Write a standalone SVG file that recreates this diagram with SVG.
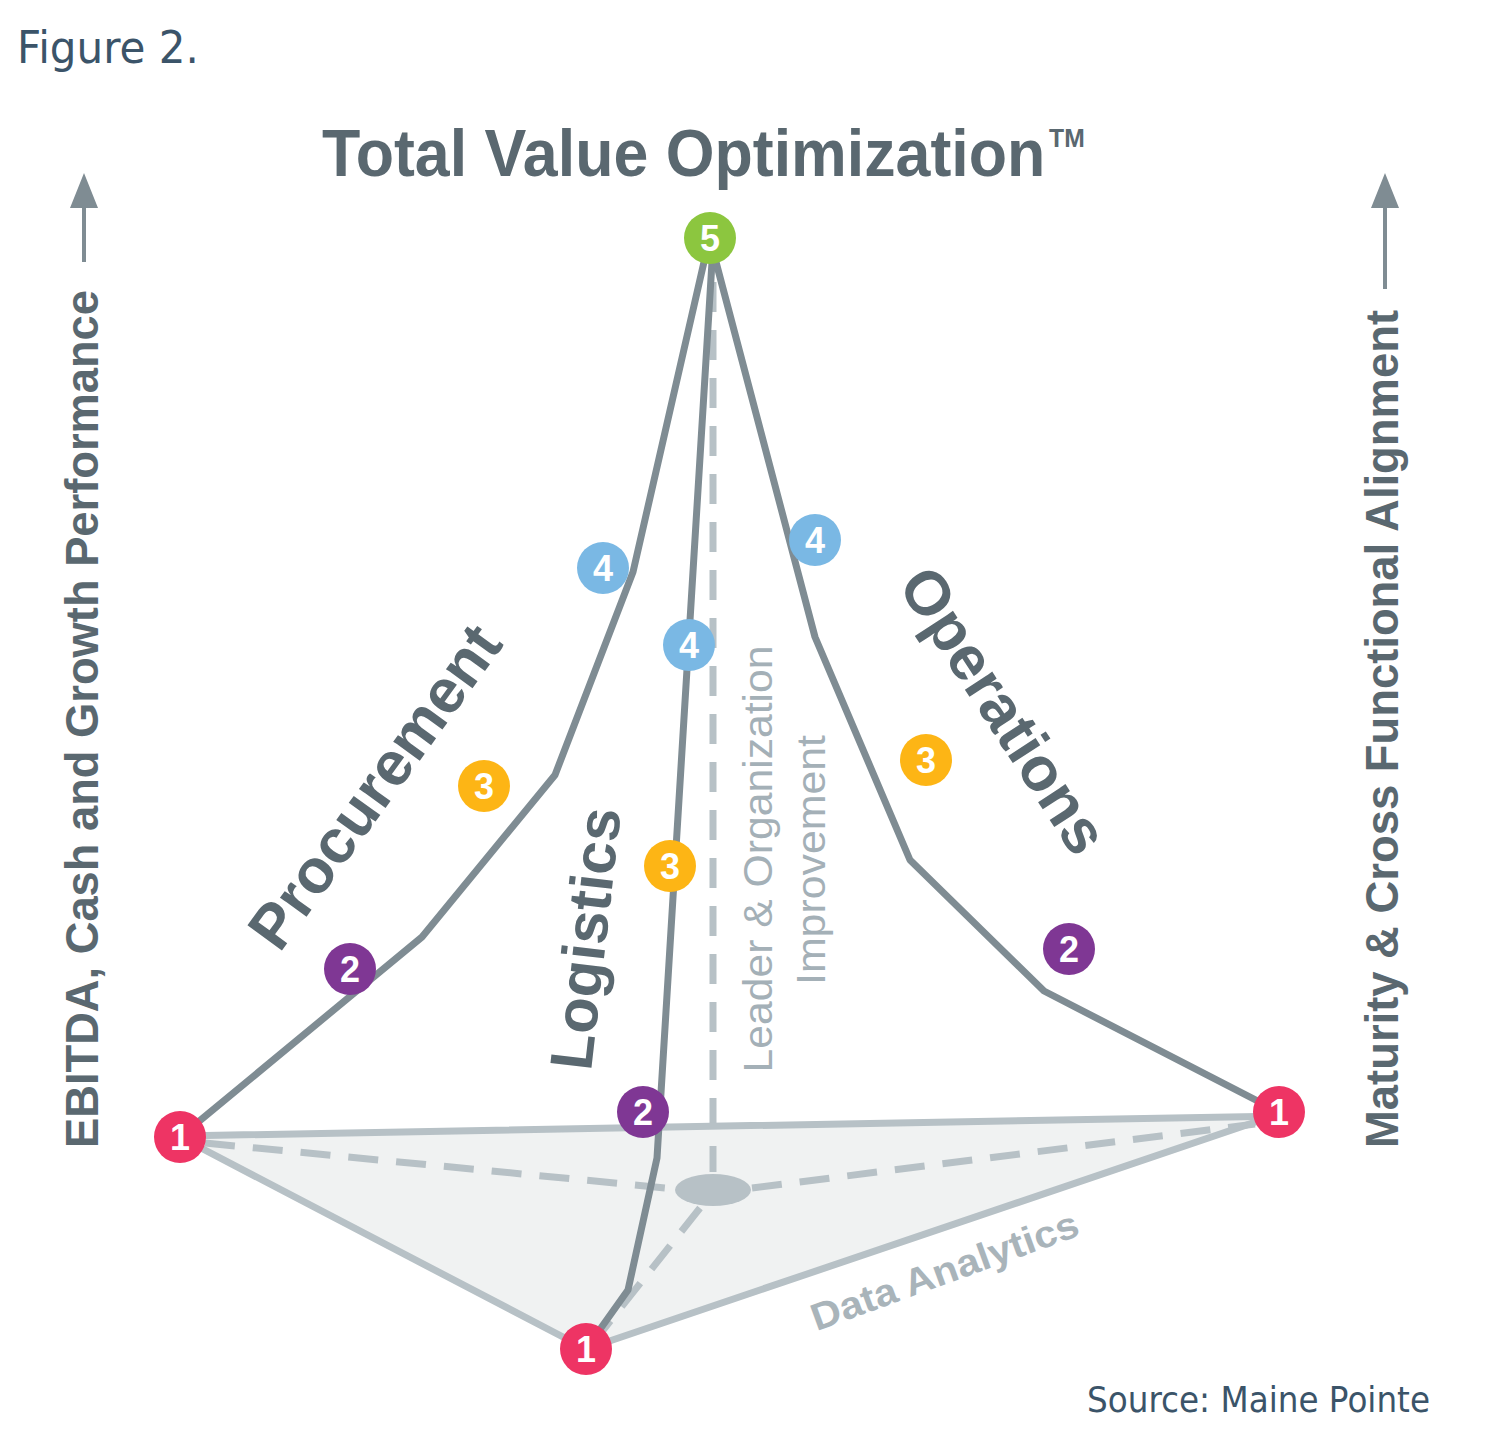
<svg xmlns="http://www.w3.org/2000/svg" width="1507" height="1450" viewBox="0 0 1507 1450">
<style>
.cap{font-family:"DejaVu Sans",Verdana,sans-serif;fill:#3b5469}
.lbl{font-family:"Liberation Sans",Arial,sans-serif;font-weight:bold;fill:#5a6870}
.lt{font-family:"Liberation Sans",Arial,sans-serif;fill:#a4b0b7}
.main{fill:none;stroke:#7f8c93;stroke-width:7;stroke-linejoin:round;stroke-linecap:round}
.edge{fill:none;stroke:#b7c1c6;stroke-width:7;stroke-linecap:round}
.dash{fill:none;stroke:#b7c1c6;stroke-width:7;stroke-dasharray:30 18}
.num{font-family:"Liberation Sans",Arial,sans-serif;font-weight:bold;font-size:36px;fill:#fff;text-anchor:middle}
.axis{stroke:#7f8c93;stroke-width:4}
</style>
<rect width="1507" height="1450" fill="#fff"/>
<text class="cap" x="17" y="63" font-size="45" textLength="182" lengthAdjust="spacingAndGlyphs">Figure 2.</text>
<text class="cap" x="1087" y="1412" font-size="35" textLength="343" lengthAdjust="spacingAndGlyphs">Source: Maine Pointe</text>
<g id="title">
<text class="lbl" transform="translate(322 176) scale(0.95 1)" font-size="66">Total Value Optimization<tspan dx="4" dy="-29" font-size="26">TM</tspan></text>
</g>
<g id="axis-left">
<line class="axis" x1="84" y1="262" x2="84" y2="200"/>
<polygon points="84,173 70,208 98,208" fill="#7f8c93"/>
<text class="lbl" transform="translate(98 1148) rotate(-90)" font-size="46" textLength="858" lengthAdjust="spacingAndGlyphs">EBITDA, Cash and Growth Performance</text>
</g>
<g id="axis-right">
<line class="axis" x1="1385" y1="289" x2="1385" y2="200"/>
<polygon points="1385,173 1371,208 1399,208" fill="#7f8c93"/>
<text class="lbl" transform="translate(1398 1148) rotate(-90)" font-size="46" textLength="838" lengthAdjust="spacingAndGlyphs">Maturity &amp; Cross Functional Alignment</text>
</g>
<g id="base">
<polygon points="180,1136 1279,1116 586,1349" fill="#f0f2f2"/>
</g>
<g id="connectors">
<line class="dash" x1="205" y1="1143" x2="676" y2="1189"/>
<line class="dash" x1="752" y1="1188" x2="1255" y2="1124"/>
<line class="dash" x1="700" y1="1208" x2="600" y2="1334"/>
<line class="dash" x1="713" y1="282" x2="713" y2="1172"/>
<ellipse cx="713" cy="1190" rx="38" ry="16" fill="#b7c1c6"/>
<line class="edge" x1="180" y1="1136" x2="1279" y2="1116"/>
<line class="edge" x1="180" y1="1137" x2="586" y2="1349"/>
<line class="edge" x1="586" y1="1349" x2="1279" y2="1114"/>
<polyline class="main" points="180,1137 422,937 555,775 633,572 704,262"/>
<polyline class="main" points="586,1349 628,1290 657,1158 712,262"/>
<polyline class="main" points="716,262 815,637 910,860 1044,991 1279,1112"/>
</g>
<g id="labels">
<text class="lbl" font-size="62" text-anchor="middle" transform="translate(392 799) rotate(-54)">Procurement</text>
<text class="lbl" font-size="60" text-anchor="middle" transform="translate(606 941) rotate(-83.5)">Logistics</text>
<text class="lbl" font-size="62" text-anchor="middle" transform="translate(986 722) rotate(57)">Operations</text>
<text class="lt" font-size="40" text-anchor="middle" transform="translate(772 859) rotate(-90)" textLength="427" lengthAdjust="spacingAndGlyphs">Leader &amp; Organization</text>
<text class="lt" font-size="40" text-anchor="middle" transform="translate(825 860) rotate(-90)" textLength="250" lengthAdjust="spacingAndGlyphs">Improvement</text>
<text class="lbl" font-size="38" text-anchor="middle" transform="translate(949 1283) rotate(-20)" style="fill:#a9b4ba" textLength="282" lengthAdjust="spacingAndGlyphs">Data Analytics</text>
</g>
<g id="node-5"><circle cx="710" cy="238" r="26" fill="#8cc63f"/><text class="num" x="710" y="251">5</text></g>
<g id="node-left-1"><circle cx="180" cy="1137" r="26" fill="#ee3464"/><text class="num" x="180" y="1150">1</text></g>
<g id="node-right-1"><circle cx="1279" cy="1112" r="26" fill="#ee3464"/><text class="num" x="1279" y="1125">1</text></g>
<g id="node-bottom-1"><circle cx="586" cy="1349" r="26" fill="#ee3464"/><text class="num" x="586" y="1362">1</text></g>
<g id="node-proc-2"><circle cx="350" cy="969" r="26" fill="#7f3794"/><text class="num" x="350" y="982">2</text></g>
<g id="node-proc-3"><circle cx="484" cy="786" r="26" fill="#fdb515"/><text class="num" x="484" y="799">3</text></g>
<g id="node-proc-4"><circle cx="603" cy="568" r="26" fill="#7ab8e4"/><text class="num" x="603" y="581">4</text></g>
<g id="node-log-2"><circle cx="643" cy="1112" r="26" fill="#7f3794"/><text class="num" x="643" y="1125">2</text></g>
<g id="node-log-3"><circle cx="670" cy="866" r="26" fill="#fdb515"/><text class="num" x="670" y="879">3</text></g>
<g id="node-log-4"><circle cx="689" cy="645" r="26" fill="#7ab8e4"/><text class="num" x="689" y="658">4</text></g>
<g id="node-ops-4"><circle cx="815" cy="540" r="26" fill="#7ab8e4"/><text class="num" x="815" y="553">4</text></g>
<g id="node-ops-3"><circle cx="926" cy="760" r="26" fill="#fdb515"/><text class="num" x="926" y="773">3</text></g>
<g id="node-ops-2"><circle cx="1069" cy="949" r="26" fill="#7f3794"/><text class="num" x="1069" y="962">2</text></g>
</svg>
